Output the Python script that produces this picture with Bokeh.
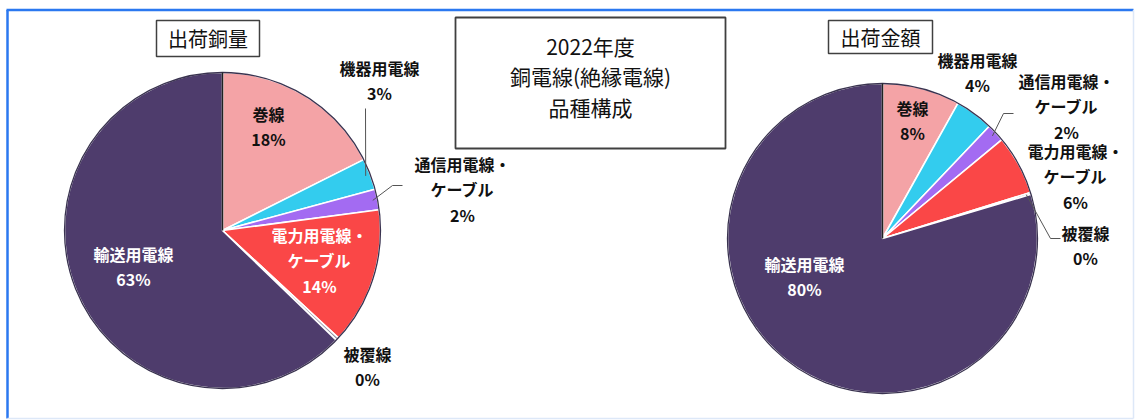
import numpy as np
from bokeh.plotting import figure
from bokeh.models import Range1d, ColumnDataSource
from bokeh.core.properties import value
from bokeh.embed import file_html
from bokeh.resources import INLINE

# ---------------- data ----------------
categories = ["巻線", "機器用電線", "通信用電線・ケーブル", "電力用電線・ケーブル", "被覆線", "輸送用電線"]
volume_share = [17.6, 3.2, 2.1, 14.0, 0.3, 62.8]   # 出荷銅量 (%)
amount_share = [8.1, 4.0, 1.9, 6.2, 0.2, 79.6]     # 出荷金額 (%)
chart_title = ["2022年度", "銅電線(絶縁電線)", "品種構成"]
pie_titles = ["出荷銅量", "出荷金額"]

# ---------------- style / layout ----------------
W, H = 1136, 420
FONT = "Noto Sans CJK JP"
slice_colors = ["#F4A3A6", "#33CCEE", "#A36BF2", "#FA4747", "#9A96A8", "#4E3C6C"]


def X(px):
    return px


def Y(py):
    return H - py


pies = [
    dict(values=volume_share, title=pie_titles[0], cx=222, cy=230, r=158,
         title_box=(156, 20, 259, 56),
         label_pos=[(268, 126), (379, 80), (462, 189), (319, 260), (367, 366), (133, 266)],
         label_color=["#111111", "#111111", "#111111", "white", "#111111", "white"],
         leaders={1: [(365, 108)], 2: [(392, 185), (402, 185)]}),
    dict(values=amount_share, title=pie_titles[1], cx=882, cy=238, r=155,
         title_box=(828, 20, 932, 53),
         label_pos=[(912, 120), (977, 72), (1066, 106), (1075, 176), (1085, 245), (804, 276)],
         label_color=["#111111", "#111111", "#111111", "#111111", "#111111", "white"],
         leaders={2: [(1003, 113), (1013, 113)], 4: [(1050, 238), (1060, 238)]}),
]

p = figure(width=W, height=H, x_range=Range1d(0, W), y_range=Range1d(0, H),
           output_backend="svg", toolbar_location=None, min_border=0)
p.axis.visible = False
p.grid.visible = False
p.outline_line_color = None
p.background_fill_color = "white"
p.border_fill_color = "white"

for pie in pies:
    vals = np.array(pie["values"], dtype=float)
    frac = vals / vals.sum()
    cum_end = np.cumsum(frac)
    cum_start = cum_end - frac
    # clockwise from 12 o'clock
    theta_start = np.pi / 2 - 2 * np.pi * cum_start
    theta_end = np.pi / 2 - 2 * np.pi * cum_end
    cx, cy, r = X(pie["cx"]), Y(pie["cy"]), pie["r"]

    src = ColumnDataSource(dict(
        start=theta_end, end=theta_start, color=slice_colors,
        x=[cx] * len(vals), y=[cy] * len(vals)))
    p.wedge(x="x", y="y", radius=r, start_angle="start", end_angle="end",
            fill_color="color", line_color="white", line_width=1.6, source=src)
    p.circle(x=[cx], y=[cy], radius=r, fill_color=None,
             line_color="#3a3350", line_width=1.3)
    # dark separator at 12 o'clock
    p.line(x=[cx, cx], y=[cy, cy + r], line_color="#222222", line_width=1.5)

    # leader lines
    mid = np.pi / 2 - 2 * np.pi * (cum_start + frac / 2)
    for idx, pts in pie["leaders"].items():
        sx = cx + r * 0.97 * np.cos(mid[idx])
        sy = cy + r * 0.97 * np.sin(mid[idx])
        xs = [sx] + [X(a) for a, b in pts]
        ys = [sy] + [Y(b) for a, b in pts]
        p.line(x=xs, y=ys, line_color="#555555", line_width=1)

    # labels
    texts = [f"{c.replace('・', '・' + chr(10))}\n{int(round(v))}%" for c, v in zip(categories, vals)]
    lsrc = ColumnDataSource(dict(
        x=[X(a) for a, b in pie["label_pos"]],
        y=[Y(b) for a, b in pie["label_pos"]],
        text=texts, color=pie["label_color"]))
    p.text(x="x", y="y", text="text", source=lsrc, text_align="center",
           text_baseline="middle", text_font=value(FONT), text_font_style="bold",
           text_font_size="16px", text_color="color", text_line_height=1.06)

    # title box
    l, t, rr, b = pie["title_box"]
    p.quad(left=[X(l)], right=[X(rr)], top=[Y(t)], bottom=[Y(b)],
           fill_color="white", line_color="#404040", line_width=1.5)
    p.text(x=[X((l + rr) / 2)], y=[Y((t + b) / 2)], text=[pie["title"]],
           text_align="center", text_baseline="middle", text_font=value(FONT),
           text_font_size="20px", text_color="#111111")

# central title box
p.quad(left=[X(455)], right=[X(725)], top=[Y(17)], bottom=[Y(148)],
       fill_color="white", line_color="#404040", line_width=1.8)
p.text(x=[X(590)], y=[Y(76)], text=["\n".join(chart_title)],
       text_align="center", text_baseline="middle", text_font=value(FONT),
       text_font_size="21px", text_color="#111111", text_line_height=1.03)

# frame: strong blue top / left, faint right / bottom
p.line(x=[6, 1133], y=[Y(9.5), Y(9.5)], line_color="#2B78F0", line_width=2.5)
p.line(x=[7, 7], y=[Y(9.5), Y(418)], line_color="#2B78F0", line_width=2.5)
p.line(x=[1133, 1133], y=[Y(9.5), Y(418)], line_color="#dde8f8", line_width=1.5)
p.line(x=[7, 1133], y=[Y(418), Y(418)], line_color="#dde8f8", line_width=1.5)

open("out.html", "w").write(file_html(p, INLINE))
